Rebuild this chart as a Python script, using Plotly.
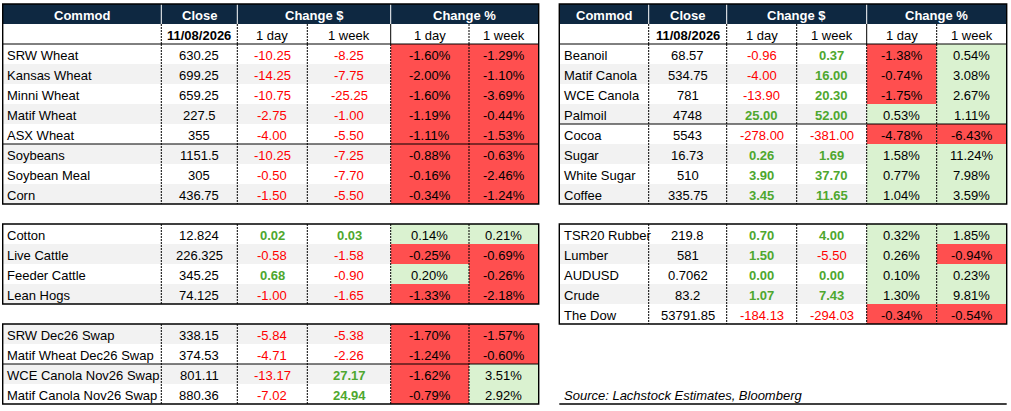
import plotly.graph_objects as go

# ---- data: left table ----
grain_names = ["SRW Wheat", "Kansas Wheat", "Minni Wheat", "Matif Wheat", "ASX Wheat",
               "Soybeans", "Soybean Meal", "Corn"]
grain_close = [630.25, 699.25, 659.25, 227.5, 355, 1151.5, 305, 436.75]
grain_chg_day = [-10.25, -14.25, -10.75, -2.75, -4.00, -10.25, -0.50, -1.50]
grain_chg_week = [-8.25, -7.75, -25.25, -1.00, -5.50, -7.25, -7.70, -5.50]
grain_pct_day = [-1.60, -2.00, -1.60, -1.19, -1.11, -0.88, -0.16, -0.34]
grain_pct_week = [-1.29, -1.10, -3.69, -0.44, -1.53, -0.63, -2.46, -1.24]

soft_names = ["Cotton", "Live Cattle", "Feeder Cattle", "Lean Hogs"]
soft_close = [12.824, 226.325, 345.25, 74.125]
soft_chg_day = [0.02, -0.58, 0.68, -1.00]
soft_chg_week = [0.03, -1.58, -0.90, -1.65]
soft_pct_day = [0.14, -0.25, 0.20, -1.33]
soft_pct_week = [0.21, -0.69, -0.26, -2.18]

swap_names = ["SRW Dec26 Swap", "Matif Wheat Dec26 Swap", "WCE Canola Nov26 Swap",
              "Matif Canola Nov26 Swap"]
swap_close = [338.15, 374.53, 801.11, 880.36]
swap_chg_day = [-5.84, -4.71, -13.17, -7.02]
swap_chg_week = [-5.38, -2.26, 27.17, 24.94]
swap_pct_day = [-1.70, -1.24, -1.62, -0.79]
swap_pct_week = [-1.57, -0.60, 3.51, 2.92]

# ---- data: right table ----
oil_names = ["Beanoil", "Matif Canola", "WCE Canola", "Palmoil",
             "Cocoa", "Sugar", "White Sugar", "Coffee"]
oil_close = [68.57, 534.75, 781, 4748, 5543, 16.73, 510, 335.75]
oil_chg_day = [-0.96, -4.00, -13.90, 25.00, -278.00, 0.26, 3.90, 3.45]
oil_chg_week = [0.37, 16.00, 20.30, 52.00, -381.00, 1.69, 37.70, 11.65]
oil_pct_day = [-1.38, -0.74, -1.75, 0.53, -4.78, 1.58, 0.77, 1.04]
oil_pct_week = [0.54, 3.08, 2.67, 1.11, -6.43, 11.24, 7.98, 3.59]

macro_names = ["TSR20 Rubber", "Lumber", "AUDUSD", "Crude", "The Dow"]
macro_close = [219.8, 581, 0.7062, 83.2, 53791.85]
macro_chg_day = [0.70, 1.50, 0.00, 1.07, -184.13]
macro_chg_week = [4.00, -5.50, 0.00, 7.43, -294.03]
macro_pct_day = [0.32, 0.26, 0.10, 1.30, -0.34]
macro_pct_week = [1.85, -0.94, 0.23, 9.81, -0.54]

header_labels = ["Commod", "Close", "Change $", "Change %"]
sub_labels = ["11/08/2026", "1 day", "1 week", "1 day", "1 week"]
source_note = "Source: Lachstock Estimates, Bloomberg"

# ---- styling ----
FONT = "Liberation Sans"
HEADER_BG = "#0E2841"
ROW_GREY = "#F2F2F2"
RED_FILL = "#FF4F4F"
GREEN_FILL = "#DAF2D0"
RED_TXT = "#FF0000"
GREEN_TXT = "#4EA72E"

LEFT_COLS = [2.7, 161.3, 237.3, 307.3, 390.7, 469.0, 538.7]
RIGHT_COLS = [559.3, 648.7, 726.7, 796.7, 866.7, 936.7, 1006.7]
ROW_H = 20

shapes = []
annotations = []


def line(x0, y0, x1, y1, color="black", width=1, dash="solid"):
    shapes.append(dict(type="line", xref="x", yref="y", x0=x0, y0=y0, x1=x1, y1=y1,
                       line=dict(color=color, width=width, dash=dash), layer="above"))


def rect(x0, y0, x1, y1, fill):
    shapes.append(dict(type="rect", xref="x", yref="y", x0=x0, y0=y0, x1=x1, y1=y1,
                       fillcolor=fill, line=dict(width=0), layer="below"))


def border(x0, y0, x1, y1):
    shapes.append(dict(type="rect", xref="x", yref="y", x0=x0, y0=y0, x1=x1, y1=y1,
                       fillcolor="rgba(0,0,0,0)", line=dict(color="black", width=1.4),
                       layer="above"))


def text(x, y, s, anchor="center", color="black", bold=False, italic=False):
    if bold:
        s = "<b>%s</b>" % s
    if italic:
        s = "<i>%s</i>" % s
    annotations.append(dict(x=x, y=y + 1, xref="x", yref="y", text=s, showarrow=False,
                            xanchor=anchor, yanchor="middle",
                            font=dict(family=FONT, size=13, color=color)))


def mid(cols, a, b):
    return (cols[a] + cols[b]) / 2


def header(cols):
    rect(cols[0], 4, cols[6], 24, HEADER_BG)
    for c in (1, 2, 4):
        line(cols[c], 4, cols[c], 24, color="white", width=1)
    spans = [(0, 1), (1, 2), (2, 4), (4, 6)]
    for (a, b), lab in zip(spans, header_labels):
        text(mid(cols, a, b), 14, lab, color="white", bold=True)
    for i, lab in enumerate(sub_labels):
        text(mid(cols, i + 1, i + 2), 34, lab, bold=(i == 0))
    for c in (1, 2, 3, 5):
        line(cols[c], 24, cols[c], 44, dash="2px,1px")
    line(cols[4], 24, cols[4], 44)
    line(cols[0], 44, cols[6], 44)


def group(cols, top, names, close, chg_day, chg_week, pct_day, pct_week,
          seps=(), grey_even=False, border_top=None):
    n = len(names)
    for i in range(n):
        y0 = top + i * ROW_H
        yc = y0 + ROW_H / 2
        if (i % 2 == 0) == grey_even:
            rect(cols[0], y0, cols[4], y0 + ROW_H, ROW_GREY)
        text(cols[0] + 2.5, yc, names[i], anchor="left")
        text(mid(cols, 1, 2), yc, str(close[i]))
        for k, v in enumerate((chg_day[i], chg_week[i])):
            up = v >= 0
            text(mid(cols, 2 + k, 3 + k), yc, "%.2f" % v,
                 color=GREEN_TXT if up else RED_TXT, bold=up)
        for k, v in enumerate((pct_day[i], pct_week[i])):
            rect(cols[4 + k], y0, cols[5 + k], y0 + ROW_H, GREEN_FILL if v >= 0 else RED_FILL)
            text(mid(cols, 4 + k, 5 + k), yc, "%.2f%%" % v)
    bottom = top + n * ROW_H
    for c in (1, 2, 3, 4, 5):
        line(cols[c], top, cols[c], bottom, dash="2px,1px")
    for s in seps:
        y = top + s * ROW_H
        line(cols[0], y, cols[6], y)
    border(cols[0], top if border_top is None else border_top, cols[6], bottom)


# left table
header(LEFT_COLS)
group(LEFT_COLS, 44, grain_names, grain_close, grain_chg_day, grain_chg_week,
      grain_pct_day, grain_pct_week, seps=(5,), border_top=4)
group(LEFT_COLS, 224, soft_names, soft_close, soft_chg_day, soft_chg_week,
      soft_pct_day, soft_pct_week)
group(LEFT_COLS, 324, swap_names, swap_close, swap_chg_day, swap_chg_week,
      swap_pct_day, swap_pct_week, seps=(2,), grey_even=True)

# right table
header(RIGHT_COLS)
group(RIGHT_COLS, 44, oil_names, oil_close, oil_chg_day, oil_chg_week,
      oil_pct_day, oil_pct_week, seps=(4,), border_top=4)
group(RIGHT_COLS, 224, macro_names, macro_close, macro_chg_day, macro_chg_week,
      macro_pct_day, macro_pct_week)

# source note
text(RIGHT_COLS[0] + 3, 394, source_note, anchor="left", italic=True)
line(RIGHT_COLS[0], 404, RIGHT_COLS[6], 404, width=1.4)

fig = go.Figure()
fig.update_layout(
    width=1011, height=411,
    margin=dict(l=0, r=0, t=0, b=0),
    paper_bgcolor="white", plot_bgcolor="white",
    xaxis=dict(range=[0, 1011], visible=False, fixedrange=True),
    yaxis=dict(range=[411, 0], visible=False, fixedrange=True),
    shapes=shapes, annotations=annotations, showlegend=False,
)
fig.write_html("out.html", config={"displayModeBar": False},
               post_script="document.body.style.margin='0';document.body.style.overflow='hidden';")
